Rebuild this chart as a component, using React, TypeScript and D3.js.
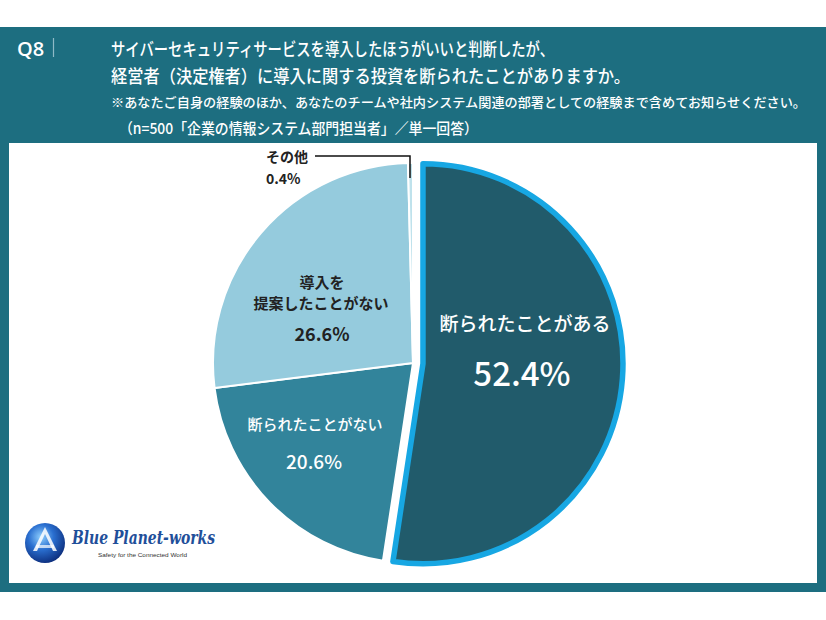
import React from "react";
import * as d3 from "d3";

const categories = ["断られたことがある", "断られたことがない", "導入を提案したことがない", "その他"];
const values = [52.4, 20.6, 26.6, 0.4];
const valueLabels = ["52.4%", "20.6%", "26.6%", "0.4%"];
const sliceColors = ["#215b6b", "#32849b", "#95cbdd", "#bfe2ec"];

const titleLines = [
  "サイバーセキュリティサービスを導入したほうがいいと判断したが、",
  "経営者（決定権者）に導入に関する投資を断られたことがありますか。",
];
const noteLines = [
  "※あなたご自身の経験のほか、あなたのチームや社内システム関連の部署としての経験まで含めてお知らせください。",
  "（n=500「企業の情報システム部門担当者」／単一回答）",
];

const W = 826;
const H = 620;
const CX = 413;
const CY = 363;
const R = 200;
const EXPLODE = 10;
const JP = "'Noto Sans CJK JP', 'Noto Sans', sans-serif";

export default function App() {
  const data = categories.map((c, i) => ({ c, v: values[i], i }));
  const pie = d3
    .pie<any>()
    .sort(null)
    .value((d: any) => d.v)
    .startAngle(0)
    .endAngle(2 * Math.PI);
  const arcs = pie(data);
  const arc = d3.arc<any>().innerRadius(0).outerRadius(R);

  const offset = (a: any, k: number) => {
    const m = (a.startAngle + a.endAngle) / 2;
    return [k * Math.sin(m), -k * Math.cos(m)];
  };

  const main = arcs[0];
  const [ox, oy] = offset(main, EXPLODE);
  const others = arcs.slice(1);

  return (
    <svg
      width={W}
      height={H}
      viewBox={`0 0 ${W} ${H}`}
      style={{ position: "absolute", left: 0, top: 0, display: "block" }}
    >
      <rect x={0} y={0} width={W} height={H} fill="#ffffff" />
      <rect x={0} y={27} width={W} height={565} fill="#1d6e80" />
      <rect x={9} y={143} width={808} height={440} fill="#ffffff" />

      {/* header */}
      <text x={17} y={48} fill="#ffffff" fontFamily="'Open Sans', 'Noto Sans', sans-serif" fontSize={20} fontWeight={600} dominantBaseline="central">
        Q8
      </text>
      <line x1={53.5} x2={53.5} y1={38} y2={57} stroke="#8fbac6" strokeWidth={1.2} />
      <text x={111} y={48} fill="#ffffff" fontFamily={JP} fontSize={18} fontWeight={500} dominantBaseline="central" textLength={443} lengthAdjust="spacingAndGlyphs">
        {titleLines[0]}
      </text>
      <text x={111} y={75} fill="#ffffff" fontFamily={JP} fontSize={18} fontWeight={500} dominantBaseline="central" textLength={519} lengthAdjust="spacingAndGlyphs">
        {titleLines[1]}
      </text>
      <text x={111} y={101} fill="#ffffff" fontFamily={JP} fontSize={13} fontWeight={500} dominantBaseline="central" textLength={695} lengthAdjust="spacingAndGlyphs">
        {noteLines[0]}
      </text>
      <text x={119} y={127} fill="#ffffff" fontFamily={JP} fontSize={15} fontWeight={500} dominantBaseline="central" textLength={359} lengthAdjust="spacingAndGlyphs">
        {noteLines[1]}
      </text>

      {/* pie */}
      <g transform={`translate(${CX},${CY})`}>
        {others.map((a) => (
          <path key={a.data.c} d={arc(a) as string} fill={sliceColors[a.data.i]} stroke="#ffffff" strokeWidth={2} strokeLinejoin="round" />
        ))}
        <g transform={`translate(${ox},${oy})`}>
          <path d={arc(main) as string} fill={sliceColors[0]} stroke="#17a7e3" strokeWidth={5.5} strokeLinejoin="round" />
        </g>
      </g>

      {/* labels */}
      <g fontFamily={JP} textAnchor="middle" dominantBaseline="central">
        <text x={525} y={322} fill="#ffffff" fontSize={19} fontWeight={500}>{categories[0]}</text>
        <text x={522} y={372} fill="#ffffff" fontSize={33} fontWeight={500}>{valueLabels[0]}</text>

        <text x={315} y={423} fill="#ffffff" fontSize={15} fontWeight={500}>{categories[1]}</text>
        <text x={314} y={460} fill="#ffffff" fontSize={19} fontWeight={500}>{valueLabels[1]}</text>

        <text x={322} y={281} fill="#222222" fontSize={15} fontWeight={700}>導入を</text>
        <text x={321} y={302} fill="#222222" fontSize={15} fontWeight={700}>提案したことがない</text>
        <text x={322} y={333} fill="#222222" fontSize={18} fontWeight={700}>{valueLabels[2]}</text>
      </g>

      <g fontFamily={JP} fontWeight={700} fill="#222222" dominantBaseline="central">
        <text x={266} y={156} fontSize={14}>{categories[3]}</text>
        <text x={266} y={178} fontSize={14}>{valueLabels[3]}</text>
      </g>
      <polyline points="315,156 410,156 410,178" fill="none" stroke="#111111" strokeWidth={1.5} />

      {/* logo */}
      <defs>
        <radialGradient id="globe" cx="40%" cy="35%" r="70%">
          <stop offset="0%" stopColor="#8fd0ff" />
          <stop offset="45%" stopColor="#2a6fd0" />
          <stop offset="100%" stopColor="#0b2a78" />
        </radialGradient>
      </defs>
      <circle cx={45} cy={543} r={20} fill="url(#globe)" />
      <path d="M45 527 L57 551 L53 551 L45 534 L37 551 L33 551 Z" fill="#ffffff" opacity={0.85} />
      <rect x={36} y={545} width={18} height={3} fill="#ffffff" opacity={0.7} />
      <text x={72} y={544} fill="#1f4f9a" fontFamily="'DejaVu Serif', 'Liberation Serif', serif" fontStyle="italic" fontWeight={700} fontSize={18} textLength={143} lengthAdjust="spacingAndGlyphs">
        Blue Planet-works
      </text>
      <text x={98} y={557} fill="#333333" fontFamily="'Liberation Sans', sans-serif" fontSize={6} textLength={89} lengthAdjust="spacingAndGlyphs">
        Safety for the Connected World
      </text>
    </svg>
  );
}
